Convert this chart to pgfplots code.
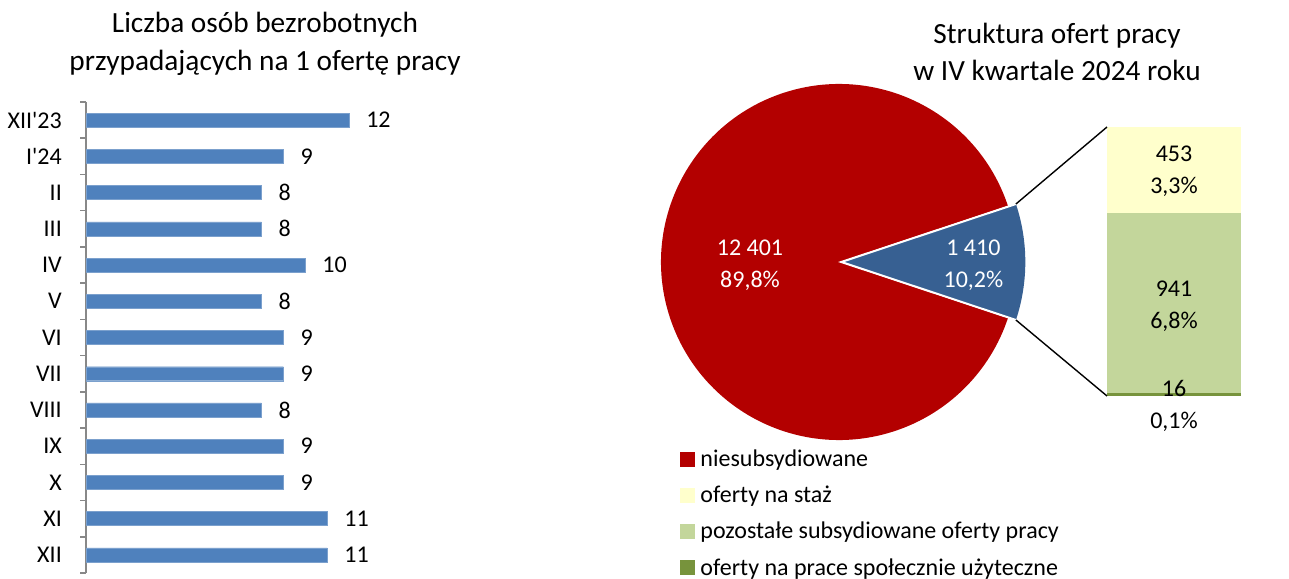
\documentclass[border=0pt]{standalone}
\usepackage{fontspec}
\setmainfont{Carlito}[Ligatures=TeXOff]
\usepackage{pgfplots}
\pgfplotsset{compat=1.18}
\definecolor{barblue}{HTML}{4F81BD}
\definecolor{pired}{HTML}{B30000}
\definecolor{piblue}{HTML}{376092}
\definecolor{staz}{HTML}{FFFFCC}
\definecolor{pozost}{HTML}{C3D69B}
\definecolor{spol}{HTML}{77933C}
\definecolor{axgray}{HTML}{888888}
\newcommand\lbl{\fontsize{24}{32}\selectfont}
\begin{document}
\begin{tikzpicture}
\useasboundingbox (0,0) rectangle (1289pt,578pt);
% titles
\node[align=center, font=\fontsize{29.3}{38}\selectfont] at (265pt,534.5pt) {Liczba osób bezrobotnych\\przypadających na 1 ofertę pracy};
\node[align=center, font=\fontsize{29.3}{37}\selectfont] at (1057pt,526pt) {Struktura ofert pracy\\w IV kwartale 2024 roku};

% left bar chart
\begin{axis}[
  at={(86pt,5pt)}, anchor=south west, scale only axis,
  width=296pt, height=471pt,
  xmin=0, xmax=13.5, ymin=-0.5, ymax=12.5, y dir=reverse,
  axis x line=none, axis y line*=left,
  y axis line style={draw=axgray, line width=1.5pt, -},
  ytick={0,...,12},
  yticklabels={XII'23, I'24, II, III, IV, V, VI, VII, VIII, IX, X, XI, XII},
  major tick length=0pt,
  minor ytick={-0.5,0.5,...,12.5},
  minor tick length=6pt, tick align=outside,
  minor tick style={draw=axgray, line width=1.5pt},
  yticklabel style={font=\lbl, anchor=east, inner sep=0pt, xshift=-24pt},
  clip=false,
  /pgf/number format/assume math mode=true,
]
\addplot[xbar, bar width=14pt, fill=barblue, draw=barblue!75!white,
  nodes near coords,
  every node near coord/.append style={font=\lbl, anchor=west, inner sep=0pt, xshift=17pt, black}]
  coordinates {(12,0) (9,1) (8,2) (8,3) (10,4) (8,5) (9,6) (9,7) (8,8) (9,9) (9,10) (11,11) (11,12)};
\end{axis}

% pie
\def\vA{12401}
\def\vB{1410}
\pgfmathsetmacro\frac{\vB/(\vA+\vB)}
\pgfmathsetmacro\half{180*\frac}
\begin{axis}[
  at={(839pt,316pt)}, anchor=center, scale only axis,
  width=356pt, height=356pt,
  xmin=-1, xmax=1, ymin=-1, ymax=1,
  hide axis, clip=false,
  legend style={at={(0.0536,-0.022)}, anchor=north west, draw=none, fill=none,
     font=\lbl, row sep=14pt, inner sep=0pt},
  legend cell align=left,
]
\fill[pired] (axis cs:0,0) -- (axis cs:{cos(\half)},{sin(\half)}) arc[start angle=\half, end angle=360-\half, radius=178pt] -- cycle;
\fill[piblue] (axis cs:0.013,0) -- ++(-\half:184pt) arc[start angle=-\half, end angle=\half, radius=184pt] -- cycle;
\draw[white, line width=2pt] (axis cs:0.013,0) ++(\half:184pt) -- (axis cs:0.013,0) -- ++(-\half:184pt);
\node[white, align=center, font=\lbl] at (axis cs:-0.5,-0.017) {12 401\\89,8\%};
\node[white, align=center, font=\lbl] at (axis cs:0.755,-0.017) {1 410\\10,2\%};
\addlegendimage{legend image code/.code={\fill[pired] (0pt,-7pt) rectangle (14pt,7pt); \path[draw=none,fill=none] (0pt,0pt) rectangle (18pt,0.1pt);}}
\addlegendentry{niesubsydiowane}
\addlegendimage{legend image code/.code={\fill[staz] (0pt,-7pt) rectangle (14pt,7pt); \path[draw=none,fill=none] (0pt,0pt) rectangle (18pt,0.1pt);}}
\addlegendentry{oferty na staż}
\addlegendimage{legend image code/.code={\fill[pozost] (0pt,-7pt) rectangle (14pt,7pt); \path[draw=none,fill=none] (0pt,0pt) rectangle (18pt,0.1pt);}}
\addlegendentry{pozostałe subsydiowane oferty pracy}
\addlegendimage{legend image code/.code={\fill[spol] (0pt,-7pt) rectangle (14pt,7pt); \path[draw=none,fill=none] (0pt,0pt) rectangle (18pt,0.1pt);}}
\addlegendentry{oferty na prace społecznie użyteczne}
\end{axis}
\path (841.3pt,316pt) ++(\half:184pt) coordinate (bt);
\path (841.3pt,316pt) ++(-\half:184pt) coordinate (bb);

% bar of pie
\begin{axis}[
  at={(1107pt,182pt)}, anchor=south west, scale only axis,
  width=134pt, height=269pt,
  xmin=-0.5, xmax=0.5, ymin=0, ymax=1410,
  hide axis, clip=false,
  ybar stacked, bar width=134pt,
]
\addplot[fill=spol, draw=none] coordinates {(0,16)};
\addplot[fill=pozost, draw=none] coordinates {(0,941)};
\addplot[fill=staz, draw=none] coordinates {(0,453)};
\end{axis}
\node[align=center, font=\lbl] at (1174pt,407pt) {453\\3,3\%};
\node[align=center, font=\lbl] at (1174pt,272pt) {941\\6,8\%};
\node[align=center, font=\lbl] at (1174pt,172pt) {16\\0,1\%};
\draw[black, line width=1.4pt] (bt) -- (1107pt,451pt);
\draw[black, line width=1.4pt] (bb) -- (1107pt,182pt);
\end{tikzpicture}
\end{document}
